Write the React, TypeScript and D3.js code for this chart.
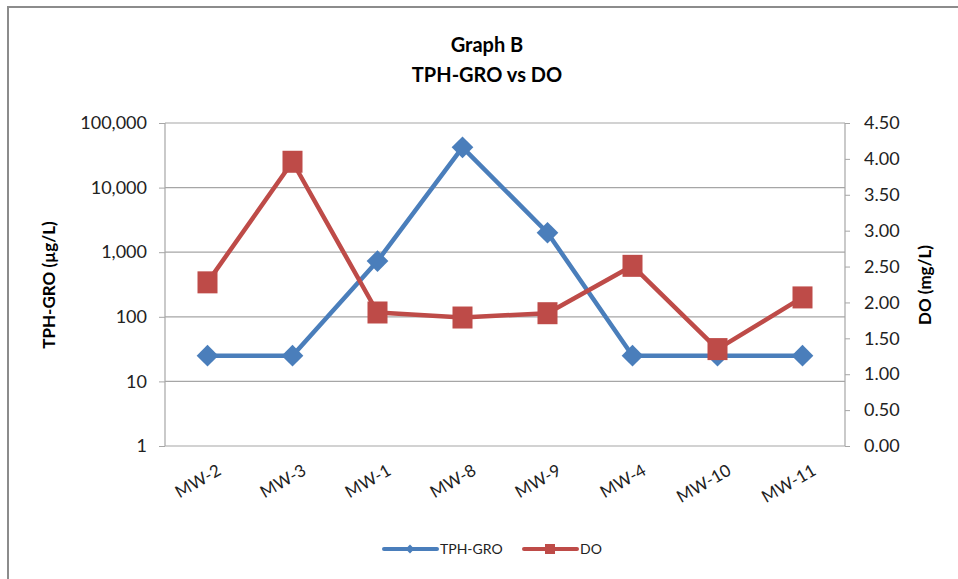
import React, { useEffect, useRef } from "react";
import * as d3 from "d3";

const categories = ["MW-2", "MW-3", "MW-1", "MW-8", "MW-9", "MW-4", "MW-10", "MW-11"];
const tphGro = [25, 25, 730, 42000, 2000, 25, 25, 25];
const doValues = [2.28, 3.96, 1.86, 1.79, 1.85, 2.51, 1.35, 2.07];
const leftTicks = [1, 10, 100, 1000, 10000, 100000];
const rightTicks = [0, 0.5, 1, 1.5, 2, 2.5, 3, 3.5, 4, 4.5];
const titleLines = ["Graph B", "TPH-GRO vs DO"];
const seriesNames = ["TPH-GRO", "DO"];

const W = 958;
const H = 579;
const FONT = "Lato, 'Open Sans', sans-serif";
const BLUE = "#4a7ebb";
const RED = "#be4b48";

export default function App() {
  const ref = useRef<SVGSVGElement>(null);

  useEffect(() => {
    const svg = d3.select(ref.current);
    svg.selectAll("*").remove();

    const left = 165, right = 845, top = 123, bottom = 446;

    const x = d3.scaleBand().domain(categories).range([left, right]);
    const yL = d3.scaleLog().domain([1, 100000]).range([bottom, top]);
    const yR = d3.scaleLinear().domain([0, 4.5]).range([bottom, top]);
    const cx = (c: string) => (x(c) as number) + x.bandwidth() / 2;

    svg.append("rect").attr("x", 0).attr("y", 0).attr("width", W).attr("height", H).attr("fill", "#fff");
    // frame
    svg.append("rect").attr("x", 8).attr("y", 7).attr("width", W + 20).attr("height", H + 20)
      .attr("fill", "none").attr("stroke", "#8c8c8c").attr("stroke-width", 2);

    // title
    titleLines.forEach((t, i) => {
      svg.append("text").attr("x", 487).attr("y", 52 + i * 30).attr("text-anchor", "middle")
        .attr("font-family", FONT).attr("font-weight", "bold").attr("font-size", 20)
        .attr("fill", "#000").text(t);
    });

    // gridlines
    leftTicks.forEach((t) => {
      svg.append("line").attr("x1", left).attr("x2", right).attr("y1", yL(t)).attr("y2", yL(t))
        .attr("stroke", "#a6a6a6").attr("stroke-width", 1.2);
    });

    // left axis
    const gL = svg.append("g").attr("transform", `translate(${left},0)`)
      .call(d3.axisLeft(yL).tickValues(leftTicks).tickSize(6).tickPadding(12).tickFormat(d3.format(",")) as any);
    gL.select(".domain").attr("stroke", "#a6a6a6").attr("stroke-width", 1.2).attr("d", `M-0,${top}V${bottom}`);
    gL.selectAll(".tick line").attr("stroke", "#a6a6a6");
    gL.selectAll(".tick text").attr("font-family", FONT).attr("font-size", 18).attr("fill", "#222");

    // right axis
    const gR = svg.append("g").attr("transform", `translate(${right},0)`)
      .call(d3.axisRight(yR).tickValues(rightTicks).tickSize(5).tickPadding(14).tickFormat(d3.format(".2f")) as any);
    gR.select(".domain").attr("stroke", "#a6a6a6").attr("stroke-width", 1.2).attr("d", `M0,${top}V${bottom}`);
    gR.selectAll(".tick line").attr("stroke", "#a6a6a6");
    gR.selectAll(".tick text").attr("font-family", FONT).attr("font-size", 18).attr("fill", "#222");

    // x labels
    categories.forEach((c) => {
      svg.append("text")
        .attr("transform", `translate(${cx(c) + 8},${462}) rotate(-30)`)
        .attr("text-anchor", "end").attr("dy", "0.8em")
        .attr("font-family", FONT).attr("font-size", 17).attr("fill", "#222").text(c);
    });

    // axis titles
    svg.append("text").attr("transform", `translate(49,285) rotate(-90)`)
      .attr("text-anchor", "middle").attr("dy", "0.35em")
      .attr("font-family", FONT).attr("font-weight", "bold").attr("font-size", 17).text("TPH-GRO (µg/L)");
    svg.append("text").attr("transform", `translate(925,285) rotate(-90)`)
      .attr("text-anchor", "middle").attr("dy", "0.35em")
      .attr("font-family", FONT).attr("font-weight", "bold").attr("font-size", 17).text("DO (mg/L)");

    // TPH line
    const lineL = d3.line<number>().x((_, i) => cx(categories[i])).y((d) => yL(d));
    svg.append("path").attr("d", lineL(tphGro)).attr("fill", "none").attr("stroke", BLUE)
      .attr("stroke-width", 4.5).attr("stroke-linejoin", "round");
    const diamond = d3.symbol().type(d3.symbolDiamond2).size(300);
    tphGro.forEach((v, i) => {
      svg.append("path").attr("d", diamond()).attr("transform", `translate(${cx(categories[i])},${yL(v)})`)
        .attr("fill", BLUE);
    });

    // DO line
    const lineR = d3.line<number>().x((_, i) => cx(categories[i])).y((d) => yR(d));
    svg.append("path").attr("d", lineR(doValues)).attr("fill", "none").attr("stroke", RED)
      .attr("stroke-width", 4.5).attr("stroke-linejoin", "round");
    doValues.forEach((v, i) => {
      svg.append("rect").attr("x", cx(categories[i]) - 10).attr("y", yR(v) - 11)
        .attr("width", 20).attr("height", 22).attr("fill", RED);
    });

    // legend
    const ly = 549;
    svg.append("line").attr("x1", 384).attr("x2", 437).attr("y1", ly).attr("y2", ly)
      .attr("stroke", BLUE).attr("stroke-width", 4).attr("stroke-linecap", "round");
    svg.append("path").attr("d", d3.symbol().type(d3.symbolDiamond2).size(50)()).attr("transform", `translate(410,${ly})`)
      .attr("fill", BLUE);
    svg.append("text").attr("x", 440).attr("y", ly).attr("dy", "0.35em").attr("font-family", FONT)
      .attr("font-size", 14).attr("fill", "#222").text(seriesNames[0]);
    svg.append("line").attr("x1", 524).attr("x2", 577).attr("y1", ly).attr("y2", ly)
      .attr("stroke", RED).attr("stroke-width", 4).attr("stroke-linecap", "round");
    svg.append("rect").attr("x", 545).attr("y", ly - 5).attr("width", 10).attr("height", 10).attr("fill", RED);
    svg.append("text").attr("x", 580).attr("y", ly).attr("dy", "0.35em").attr("font-family", FONT)
      .attr("font-size", 14).attr("fill", "#222").text(seriesNames[1]);
  }, []);

  return (
    <svg ref={ref} width={W} height={H} style={{ position: "absolute", left: 0, top: 0 }} />
  );
}
